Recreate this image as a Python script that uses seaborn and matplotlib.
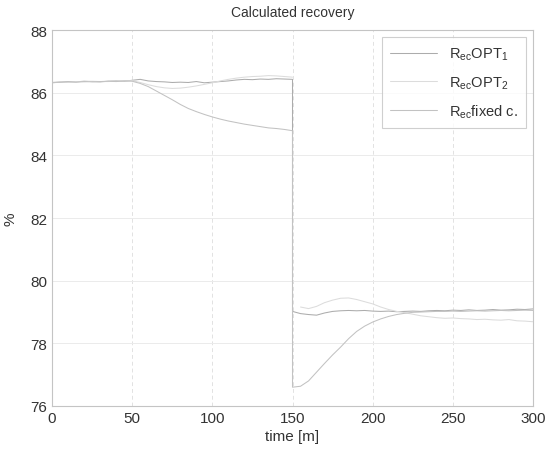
import numpy as np
import pandas as pd
import seaborn as sns
import matplotlib.pyplot as plt

# time axis, minutes (150 appears in both halves -> the step change)
t_phase1 = [0, 5, 10, 15, 20, 25, 30, 35, 40, 45, 50, 55, 60, 65, 70, 75, 80, 85, 90, 95,
            100, 105, 110, 115, 120, 125, 130, 135, 140, 145, 150]
t_phase2 = [150, 155, 160, 165, 170, 175, 180, 185, 190, 195, 200, 205, 210, 215, 220, 225,
            230, 235, 240, 245, 250, 255, 260, 265, 270, 275, 280, 285, 290, 295, 300]
t_phase2_opt2 = t_phase2[1:]

# Rec OPT1
opt1_p1 = [86.32, 86.34, 86.36, 86.35, 86.37, 86.36, 86.35, 86.37, 86.38, 86.37, 86.40, 86.43,
           86.38, 86.36, 86.35, 86.33, 86.34, 86.33, 86.36, 86.32, 86.34, 86.36, 86.38, 86.41,
           86.43, 86.42, 86.44, 86.43, 86.45, 86.44, 86.43]
opt1_p2 = [79.02, 78.95, 78.92, 78.90, 78.97, 79.02, 79.04, 79.05, 79.04, 79.05, 79.03, 79.02,
           79.03, 79.01, 79.02, 79.03, 79.02, 79.04, 79.05, 79.04, 79.06, 79.05, 79.07, 79.05,
           79.06, 79.08, 79.06, 79.07, 79.09, 79.08, 79.10]
# Rec OPT2
opt2_p1 = [86.33, 86.35, 86.34, 86.36, 86.35, 86.37, 86.36, 86.36, 86.37, 86.38, 86.39, 86.33,
           86.26, 86.20, 86.16, 86.14, 86.15, 86.18, 86.22, 86.27, 86.32, 86.38, 86.43, 86.47,
           86.50, 86.52, 86.53, 86.55, 86.54, 86.52, 86.50]
opt2_p2 = [79.16, 79.11, 79.18, 79.30, 79.38, 79.44, 79.45, 79.40, 79.33, 79.26, 79.16, 79.08,
           79.02, 78.98, 78.93, 78.88, 78.85, 78.82, 78.80, 78.81, 78.79, 78.78, 78.76, 78.77,
           78.75, 78.74, 78.76, 78.72, 78.71, 78.69]
# Rec fixed c.
fixed_p1 = [86.33, 86.34, 86.35, 86.34, 86.36, 86.35, 86.36, 86.37, 86.36, 86.38, 86.37, 86.30,
            86.20, 86.06, 85.92, 85.78, 85.63, 85.50, 85.40, 85.31, 85.23, 85.16, 85.10, 85.05,
            85.00, 84.96, 84.92, 84.88, 84.86, 84.83, 84.79]
fixed_p2 = [76.60, 76.63, 76.80, 77.08, 77.36, 77.63, 77.88, 78.15, 78.38, 78.55, 78.68, 78.78,
            78.86, 78.92, 78.96, 78.99, 79.00, 79.01, 79.02, 79.02, 79.03, 79.02, 79.03, 79.04,
            79.03, 79.04, 79.05, 79.04, 79.05, 79.06, 79.05]

labels = [r'R$_{ec}$OPT$_1$', r'R$_{ec}$OPT$_2$', r'R$_{ec}$fixed c.']

rows = []
def add(name, seg, ts, vs):
    for t, v in zip(ts, vs):
        rows.append({'series': name, 'seg': seg, 'time': t, 'val': v})

add(labels[0], 0, t_phase1 + t_phase2, opt1_p1 + opt1_p2)
add(labels[1], 1, t_phase1, opt2_p1)
add(labels[1], 2, t_phase2_opt2, opt2_p2)
add(labels[2], 3, t_phase1 + t_phase2, fixed_p1 + fixed_p2)
df = pd.DataFrame(rows)

sns.set_style('white')
plt.rcParams['font.family'] = ['Liberation Sans', 'DejaVu Sans']
plt.rcParams['mathtext.default'] = 'regular'

fig = plt.figure(figsize=(5.45, 4.52), dpi=100)
ax = fig.add_axes([0.0954, 0.0996, 0.8826, 0.8314])

pal = {labels[0]: '#acacac', labels[1]: '#dcdcdc', labels[2]: '#c2c2c2'}
sns.lineplot(data=df, x='time', y='val', hue='series', units='seg', estimator=None,
             sort=False, palette=pal, linewidth=0.75, ax=ax, hue_order=labels)

ax.set_xlim(0, 300)
ax.set_ylim(76, 88)
ax.set_xticks([0, 50, 100, 150, 200, 250, 300])
ax.set_yticks([76, 78, 80, 82, 84, 86, 88])
ax.xaxis.grid(True, color='#e2e2e2', linestyle=(0, (4, 3)), linewidth=0.7)
ax.yaxis.grid(True, color='#ebebeb', linestyle='-', linewidth=0.7)
for s in ax.spines.values():
    s.set_color('#c4c4c4')
    s.set_linewidth(0.8)
ax.tick_params(colors='#333333', labelsize=11, length=3, direction='in')
ax.tick_params(axis='both', colors='#c4c4c4', labelcolor='#333333')
ax.set_xlabel('time [m]', fontsize=11, color='#333333', labelpad=3)
ax.set_ylabel('%', fontsize=11, color='#333333', labelpad=9)
ax.set_title('Calculated recovery', fontsize=10, color='#333333', pad=10)

leg = ax.legend(loc='upper right', fontsize=10.5, frameon=True, fancybox=False,
                edgecolor='#c4c4c4', handlelength=3.2, borderpad=0.6, labelspacing=0.8,
                borderaxespad=0, bbox_to_anchor=(0.986, 0.981))
leg.get_frame().set_linewidth(0.8)
for txt in leg.get_texts():
    txt.set_color('#333333')

fig.savefig('out.png', dpi=100)
